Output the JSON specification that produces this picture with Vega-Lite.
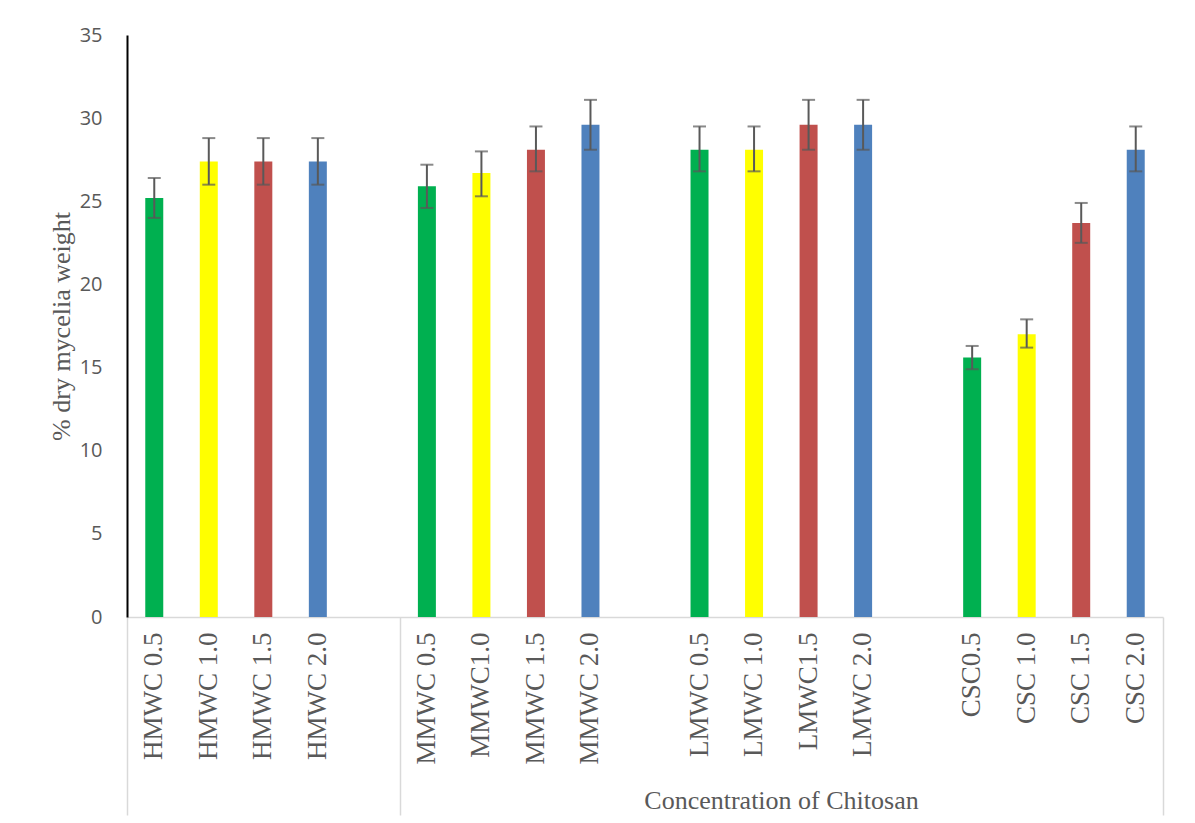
{
  "$schema": "https://vega.github.io/schema/vega-lite/v6.json",
  "width": 1036,
  "height": 582,
  "autosize": {"type": "none"},
  "padding": {"left": 127, "top": 35, "right": 32, "bottom": 206},
  "background": "white",
  "config": {"view": {"stroke": null}},
  "data": {
    "values": [
      {"treatment": "HMWC 0.5", "dose": "0.5", "mean": 25.2, "lo": 24.0, "hi": 26.4},
      {"treatment": "HMWC 1.0", "dose": "1.0", "mean": 27.4, "lo": 26.0, "hi": 28.8},
      {"treatment": "HMWC 1.5", "dose": "1.5", "mean": 27.4, "lo": 26.0, "hi": 28.8},
      {"treatment": "HMWC 2.0", "dose": "2.0", "mean": 27.4, "lo": 26.0, "hi": 28.8},
      {"treatment": "MMWC 0.5", "dose": "0.5", "mean": 25.9, "lo": 24.6, "hi": 27.2},
      {"treatment": "MMWC1.0", "dose": "1.0", "mean": 26.7, "lo": 25.3, "hi": 28.0},
      {"treatment": "MMWC 1.5", "dose": "1.5", "mean": 28.1, "lo": 26.8, "hi": 29.5},
      {"treatment": "MMWC 2.0", "dose": "2.0", "mean": 29.6, "lo": 28.1, "hi": 31.1},
      {"treatment": "LMWC 0.5", "dose": "0.5", "mean": 28.1, "lo": 26.8, "hi": 29.5},
      {"treatment": "LMWC 1.0", "dose": "1.0", "mean": 28.1, "lo": 26.8, "hi": 29.5},
      {"treatment": "LMWC1.5", "dose": "1.5", "mean": 29.6, "lo": 28.1, "hi": 31.1},
      {"treatment": "LMWC 2.0", "dose": "2.0", "mean": 29.6, "lo": 28.1, "hi": 31.1},
      {"treatment": "CSC0.5", "dose": "0.5", "mean": 15.6, "lo": 14.9, "hi": 16.3},
      {"treatment": "CSC 1.0", "dose": "1.0", "mean": 17.0, "lo": 16.2, "hi": 17.9},
      {"treatment": "CSC 1.5", "dose": "1.5", "mean": 23.7, "lo": 22.5, "hi": 24.9},
      {"treatment": "CSC 2.0", "dose": "2.0", "mean": 28.1, "lo": 26.8, "hi": 29.5}
    ]
  },
  "resolve": {"axis": {"x": "independent"}},
  "layer": [
    {
      "mark": {"type": "bar"},
      "encoding": {
        "x": {
          "field": "treatment",
          "type": "nominal",
          "sort": null,
          "scale": {
            "domain": [
              "HMWC 0.5", "HMWC 1.0", "HMWC 1.5", "HMWC 2.0", "gap1",
              "MMWC 0.5", "MMWC1.0", "MMWC 1.5", "MMWC 2.0", "gap2",
              "LMWC 0.5", "LMWC 1.0", "LMWC1.5", "LMWC 2.0", "gap3",
              "CSC0.5", "CSC 1.0", "CSC 1.5", "CSC 2.0"
            ],
            "paddingInner": 0.67,
            "paddingOuter": 0.335
          },
          "axis": {
            "orient": "bottom",
            "title": "Concentration of Chitosan",
            "titleFont": "Liberation Serif",
            "titleFontSize": 26,
            "titleFontWeight": "normal",
            "titleColor": "#595959",
            "titleX": 654,
            "titleY": 183,
            "titleBaseline": "middle",
            "titleAlign": "center",
            "labelExpr": "indexof(datum.value, 'gap') == 0 ? '' : datum.value",
            "labelAngle": -90,
            "labelAlign": "right",
            "labelBaseline": "middle",
            "labelFont": "Liberation Serif",
            "labelFontSize": 27,
            "labelColor": "#595959",
            "labelPadding": 15,
            "labelOverlap": false,
            "domainColor": "#D9D9D9",
            "domainWidth": 1.5,
            "ticks": false,
            "grid": false
          }
        },
        "y": {
          "field": "mean",
          "type": "quantitative",
          "scale": {"domain": [0, 35], "nice": false},
          "axis": {
            "title": "% dry mycelia weight",
            "titleFont": "Liberation Serif",
            "titleFontSize": 26,
            "titleFontWeight": "normal",
            "titleColor": "#595959",
            "titleAngle": -90,
            "titleX": -66,
            "titleY": 291,
            "titleAlign": "center",
            "titleBaseline": "middle",
            "values": [0, 5, 10, 15, 20, 25, 30, 35],
            "labelFont": "Open Sans",
            "labelFontSize": 20,
            "labelColor": "#595959",
            "labelPadding": 25,
            "ticks": false,
            "grid": false,
            "domainColor": "#000000",
            "domainWidth": 2
          }
        },
        "color": {
          "field": "dose",
          "type": "nominal",
          "scale": {
            "domain": ["0.5", "1.0", "1.5", "2.0"],
            "range": ["#00B050", "#FFFF00", "#C0504D", "#4F81BD"]
          },
          "legend": null
        }
      }
    },
    {
      "mark": {"type": "rule", "color": "#595959", "strokeWidth": 2},
      "encoding": {
        "x": {"field": "treatment", "type": "nominal", "axis": null},
        "y": {"field": "lo", "type": "quantitative"},
        "y2": {"field": "hi"}
      }
    },
    {
      "mark": {"type": "tick", "color": "#595959", "thickness": 2, "size": 13, "orient": "horizontal"},
      "encoding": {
        "x": {
          "field": "treatment",
          "type": "nominal",
          "axis": {
            "orient": "bottom",
            "title": null,
            "values": ["HMWC 0.5", "MMWC 0.5"],
            "bandPosition": 0,
            "tickOffset": -18.26,
            "labels": false,
            "domain": false,
            "grid": false,
            "ticks": true,
            "tickSize": 198,
            "tickWidth": 1.5,
            "tickColor": "#D9D9D9"
          }
        },
        "y": {"field": "lo", "type": "quantitative"}
      }
    },
    {
      "mark": {"type": "tick", "color": "#595959", "thickness": 2, "size": 13, "orient": "horizontal"},
      "encoding": {
        "x": {
          "field": "treatment",
          "type": "nominal",
          "axis": {
            "orient": "bottom",
            "title": null,
            "values": ["CSC 2.0"],
            "bandPosition": 1,
            "tickOffset": 18.26,
            "labels": false,
            "domain": false,
            "grid": false,
            "ticks": true,
            "tickSize": 198,
            "tickWidth": 1.5,
            "tickColor": "#D9D9D9"
          }
        },
        "y": {"field": "hi", "type": "quantitative"}
      }
    }
  ]
}
